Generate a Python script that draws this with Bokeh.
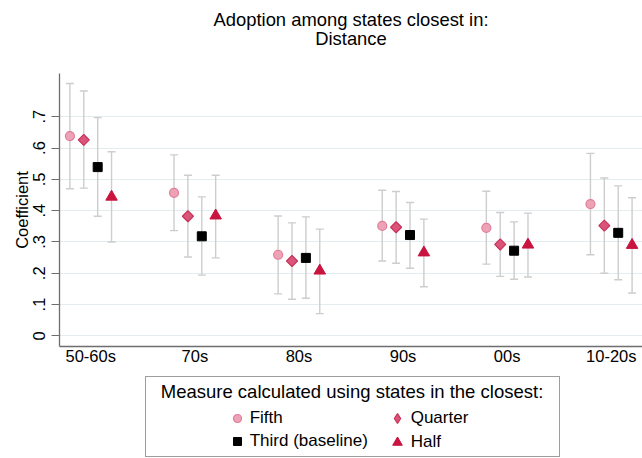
import math
from bokeh.plotting import figure
from bokeh.layouts import column
from bokeh.models import (ColumnDataSource, Whisker, TeeHead, Legend, LegendItem,
                          FixedTicker, Range1d, Label)
from bokeh.transform import dodge
from bokeh.embed import file_html
from bokeh.resources import INLINE

# ---------------- data ----------------
decades = ["50-60s", "70s", "80s", "90s", "00s", "10-20s"]
series_names = ["Fifth", "Quarter", "Third (baseline)", "Half"]

fifth = [0.638, 0.457, 0.259, 0.351, 0.345, 0.421]
fifth_lo = [0.470, 0.336, 0.134, 0.239, 0.229, 0.259]
fifth_hi = [0.806, 0.578, 0.383, 0.465, 0.462, 0.583]

quarter = [0.626, 0.382, 0.239, 0.347, 0.292, 0.352]
quarter_lo = [0.472, 0.252, 0.117, 0.232, 0.190, 0.200]
quarter_hi = [0.782, 0.513, 0.361, 0.461, 0.394, 0.504]

third = [0.539, 0.318, 0.249, 0.322, 0.272, 0.329]
third_lo = [0.382, 0.194, 0.120, 0.216, 0.181, 0.179]
third_hi = [0.697, 0.444, 0.380, 0.426, 0.364, 0.479]

half = [0.444, 0.384, 0.208, 0.266, 0.291, 0.290]
half_lo = [0.300, 0.249, 0.071, 0.157, 0.188, 0.137]
half_hi = [0.588, 0.513, 0.341, 0.373, 0.392, 0.441]

y_ticks = [0, 0.1, 0.2, 0.3, 0.4, 0.5, 0.6, 0.7]
y_tick_labels = ["0", ".1", ".2", ".3", ".4", ".5", ".6", ".7"]

title_line1 = "Adoption among states closest in:"
title_line2 = "Distance"
legend_title = "Measure calculated using states in the closest:"
y_label = "Coefficient"

# ---------------- layout constants ----------------
FONT = "Liberation Sans"
W = 642
LEFT = 59                 # frames of all three blocks are aligned on this border
FRAME_W = W - LEFT
TITLE_H = 72
MAIN_H = 295
LEG_H = 91
BOX_W, BOX_H = 413, 79
BOX_X = 86                # key frame offset from the plot region's left edge


def bare_figure(width, height):
    f = figure(width=width, height=height, output_backend="svg", toolbar_location=None,
               title=None, x_axis_type=None, y_axis_type=None,
               x_range=Range1d(-2, -1), y_range=Range1d(-2, -1),
               min_border_left=LEFT, min_border_right=0, min_border_top=0, min_border_bottom=0)
    f.outline_line_color = None
    f.background_fill_color = "white"
    f.border_fill_color = "white"
    f.xgrid.grid_line_color = None
    f.ygrid.grid_line_color = None
    return f


# ---------------- title block ----------------
tf = bare_figure(W, TITLE_H)
for txt, y_from_top in [(title_line1, 19), (title_line2, 38)]:
    tf.add_layout(Label(x=FRAME_W / 2, y=TITLE_H - y_from_top,
                        x_units="screen", y_units="screen", text=txt,
                        text_align="center", text_baseline="middle", text_font=FONT,
                        text_font_size="18.4px", text_color="black"))

# ---------------- main plot ----------------
p = figure(width=W, height=MAIN_H, output_backend="svg", toolbar_location=None,
           title=None, x_range=Range1d(-0.3, 5.3), y_range=Range1d(-0.034, 0.838),
           min_border_left=LEFT, min_border_right=0, min_border_top=1,
           min_border_bottom=0)
p.outline_line_color = None
p.background_fill_color = "white"
p.border_fill_color = "white"

p.xaxis.ticker = FixedTicker(ticks=list(range(len(decades))))
p.xaxis.major_label_overrides = {i: d for i, d in enumerate(decades)}
p.xaxis.major_tick_line_color = None
p.xaxis.major_tick_in = 0
p.xaxis.major_tick_out = 0
p.xaxis.minor_tick_line_color = None
p.xaxis.axis_line_color = "#6e6e6e"
p.xaxis.axis_line_width = 1.3
p.xaxis.major_label_text_font = FONT
p.xaxis.major_label_text_font_size = "16.5px"
p.xaxis.major_label_text_color = "black"
p.xaxis.major_label_standoff = 0

p.yaxis.ticker = FixedTicker(ticks=y_ticks)
p.yaxis.major_label_overrides = {t: l for t, l in zip(y_ticks, y_tick_labels)}
p.yaxis.major_label_orientation = "vertical"
p.yaxis.minor_tick_line_color = None
p.yaxis.major_tick_in = 0
p.yaxis.major_tick_out = 8
p.yaxis.major_tick_line_color = "#6e6e6e"
p.yaxis.axis_line_color = "#6e6e6e"
p.yaxis.axis_line_width = 1.3
p.yaxis.major_label_text_font = FONT
p.yaxis.major_label_text_font_size = "16.5px"
p.yaxis.major_label_text_color = "black"
p.yaxis.major_label_standoff = 6
p.yaxis.axis_label = y_label
p.yaxis.axis_label_text_font = FONT
p.yaxis.axis_label_text_font_size = "16.5px"
p.yaxis.axis_label_text_font_style = "normal"
p.yaxis.axis_label_text_color = "black"
p.yaxis.axis_label_standoff = 0

p.xgrid.grid_line_color = None
p.ygrid.ticker = FixedTicker(ticks=y_ticks)
p.ygrid.grid_line_color = "#e4ecef"
p.ygrid.grid_line_width = 1.2

offsets = [-0.2, -0.0667, 0.0667, 0.2]
values = [fifth, quarter, third, half]
lows = [fifth_lo, quarter_lo, third_lo, half_lo]
highs = [fifth_hi, quarter_hi, third_hi, half_hi]
styles = [
    dict(marker="circle", size=9, fill_color="#eda3b5", line_color="#e07e9a", line_width=1.2, angle=0),
    dict(marker="square", size=7.8, fill_color="#d9557a", line_color="#c9325a", line_width=1.2, angle=math.pi / 4),
    dict(marker="square", size=9, fill_color="black", line_color="black", line_width=1, angle=0),
    dict(marker="triangle", size=11.5, fill_color="#c8143f", line_color="#c8143f", line_width=1, angle=0),
]

WH = "#cdcdcd"
sources = []
for v, lo, hi in zip(values, lows, highs):
    sources.append(ColumnDataSource(dict(x=list(range(len(decades))), y=v, lo=lo, hi=hi)))

for src, off in zip(sources, offsets):
    p.add_layout(Whisker(source=src, base=dodge("x", off, range=p.x_range), upper="hi", lower="lo",
                         dimension="height", line_color=WH, line_width=1.4,
                         upper_head=TeeHead(size=8, line_color=WH, line_width=1.4),
                         lower_head=TeeHead(size=8, line_color=WH, line_width=1.4)))

for src, off, st in zip(sources, offsets, styles):
    p.scatter(x=dodge("x", off, range=p.x_range), y="y", source=src, **st)

# ---------------- legend block ----------------
lf = bare_figure(W, LEG_H)

# frame of the key
frame_r = lf.scatter(x=[], y=[], size=0, fill_alpha=0, line_alpha=0)
box = Legend(items=[LegendItem(label="", renderers=[frame_r])], location=(BOX_X, 1),
             padding=0, margin=0, glyph_width=1, glyph_height=BOX_H, label_standoff=0,
             label_width=BOX_W - 1, label_height=10, spacing=0,
             border_line_color="#3c3c3c", border_line_width=1.2,
             background_fill_alpha=0)
lf.add_layout(box)

lf.add_layout(Label(x=BOX_X + BOX_W / 2, y=LEG_H - 24, x_units="screen", y_units="screen",
                    text=legend_title, text_align="center", text_baseline="middle",
                    text_font=FONT, text_font_size="18.5px", text_color="black"))

# key symbols (same sources; the points fall outside this block's ranges, only the key shows)
key_styles = [dict(st) for st in styles]
key_styles[1].update(marker="diamond", angle=0)
key_renderers = [lf.scatter(x="x", y="y", source=src, **st) for src, st in zip(sources, key_styles)]

key_common = dict(orientation="vertical", label_text_font=FONT, label_text_font_size="17px",
                  label_text_color="black", padding=0, margin=0,
                  border_line_color=None, background_fill_alpha=0)
left_key = Legend(items=[LegendItem(label=series_names[0], renderers=[key_renderers[0]]),
                         LegendItem(label=series_names[2], renderers=[key_renderers[2]])],
                  location=(BOX_X + 81.7, 7.3), glyph_width=20, glyph_height=20,
                  label_standoff=3, spacing=3, **key_common)
right_key = Legend(items=[LegendItem(label=series_names[1], renderers=[key_renderers[1]]),
                          LegendItem(label=series_names[3], renderers=[key_renderers[3]])],
                   location=(BOX_X + 239.7, 4.3), glyph_width=24, glyph_height=24,
                   label_standoff=2, spacing=0, **key_common)
lf.add_layout(left_key)
lf.add_layout(right_key)

layout = column(tf, p, lf, spacing=0)
open("out.html", "w").write(file_html(layout, INLINE))
